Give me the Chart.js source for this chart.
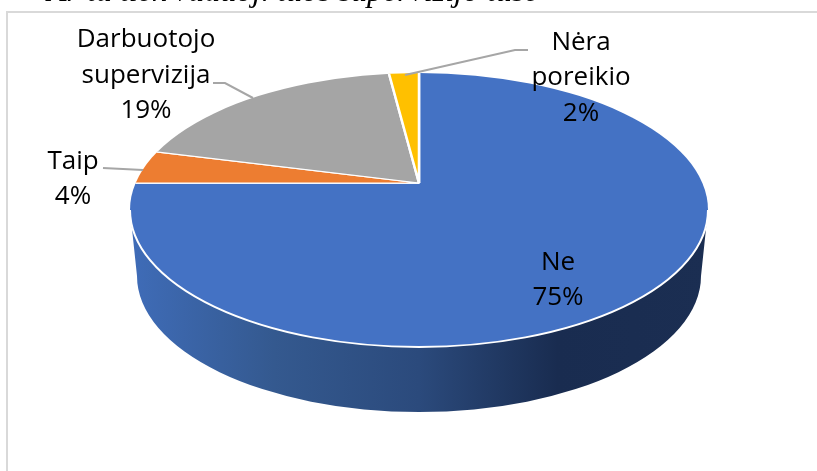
<!DOCTYPE html>
<html lang="lt">
<head>
    <meta charset="UTF-8">
    <title>Supervizija</title>
    <script src="https://cdn.jsdelivr.net/npm/chart.js"></script>
    <style>
        html, body { margin: 0; padding: 0; background: #fff; overflow: hidden; }
        canvas { display: block; }
    </style>
</head>
<body>
    <canvas id="myChart" width="817" height="471"></canvas>
    <script>
        const categories = ['Ne', 'Taip', 'Darbuotojo supervizija', 'Nėra poreikio'];
        const shares = [75, 4, 19, 2];
        const sliceColors = ['#4472C4', '#ED7D31', '#A5A5A5', '#FFC000'];
        const clippedCaption = 'Ar ta tiek vaduoj. tuos supervizijo tuse';

        // where the pie top sits on the page (the apex is above the ellipse centre, like the 3D view)
        const top3d = { cx: 419, cy: 210, rx: 289, ry: 137, apexX: 419, apexY: 183 };
        const base3d = { cy: 276, rx: 282, ry: 136 };
        const sliceScale = { x: 330, up: 152, down: 188 };

        const labelSpots = [[558, 262.5], [73, 161.5], [146, 40], [581, 42.5]];
        const lineGap = 35.5;
        const leaders = [
            [[103, 168], [143, 170]],
            [[213, 83], [225, 83], [253, 98]],
            [[528, 50], [515, 50], [405, 75]]
        ];

        function drawSide(ctx) {
            const t = top3d, b = base3d;
            const side = ctx.createLinearGradient(t.cx - t.rx, 0, t.cx + t.rx, 0);
            side.addColorStop(0, '#3F6CB8');
            side.addColorStop(0.25, '#34598F');
            side.addColorStop(0.5, '#2B4A7C');
            side.addColorStop(0.74, '#192C50');
            side.addColorStop(1, '#1B2E52');
            ctx.save();
            ctx.beginPath();
            ctx.moveTo(t.cx - t.rx, t.cy);
            ctx.lineTo(t.cx - b.rx, b.cy);
            ctx.ellipse(t.cx, b.cy, b.rx, b.ry, 0, Math.PI, 0, true);
            ctx.lineTo(t.cx + t.rx, t.cy);
            ctx.closePath();
            ctx.fillStyle = side;
            ctx.fill();
            ctx.restore();
        }

        function drawSlicesPart(chart, meta, clipTop, clipBottom, scaleY) {
            const ctx = chart.ctx, t = top3d;
            const arc = meta.data[0];
            const k = arc.outerRadius;
            ctx.save();
            ctx.beginPath();
            ctx.rect(0, clipTop, chart.width, clipBottom - clipTop);
            ctx.clip();
            ctx.beginPath();
            ctx.ellipse(t.cx, t.cy, t.rx, t.ry, 0, 0, Math.PI * 2);
            ctx.clip();
            ctx.translate(t.apexX, t.apexY);
            ctx.scale(sliceScale.x / k, scaleY / k);
            ctx.translate(-arc.x, -arc.y);
            meta.controller.draw();
            ctx.restore();
        }

        const pie3d = {
            id: 'pie3d',
            beforeDatasetDraw(chart, args) {
                const ctx = chart.ctx, t = top3d;
                drawSide(ctx);
                drawSlicesPart(chart, args.meta, 0, t.apexY, sliceScale.up);
                drawSlicesPart(chart, args.meta, t.apexY, chart.height, sliceScale.down);
                ctx.beginPath();
                ctx.ellipse(t.cx, t.cy, t.rx, t.ry, 0, 0, Math.PI);
                ctx.strokeStyle = '#fff';
                ctx.lineWidth = 2;
                ctx.stroke();
                return false;
            },
            afterDraw(chart) {
                const ctx = chart.ctx;
                ctx.save();
                ctx.strokeStyle = '#A6A6A6';
                ctx.lineWidth = 2;
                leaders.forEach(pts => {
                    ctx.beginPath();
                    pts.forEach((p, i) => i ? ctx.lineTo(p[0], p[1]) : ctx.moveTo(p[0], p[1]));
                    ctx.stroke();
                });
                ctx.fillStyle = '#000';
                ctx.font = '26px "Open Sans"';
                ctx.textAlign = 'center';
                ctx.textBaseline = 'middle';
                categories.forEach((name, i) => {
                    const lines = name.split(' ').concat(shares[i] + '%');
                    lines.forEach((line, j) => {
                        ctx.fillText(line, labelSpots[i][0], labelSpots[i][1] + j * lineGap);
                    });
                });
                // chart frame and the caption line cut off above it
                ctx.strokeStyle = '#D9D9D9';
                ctx.lineWidth = 2;
                ctx.beginPath();
                ctx.moveTo(7, chart.height);
                ctx.lineTo(7, 12);
                ctx.lineTo(chart.width, 12);
                ctx.stroke();
                ctx.font = 'italic 32px "Liberation Serif"';
                ctx.textAlign = 'left';
                ctx.textBaseline = 'alphabetic';
                ctx.fillText(clippedCaption, 47, 1);
                ctx.restore();
            }
        };

        new Chart(document.getElementById('myChart'), {
            type: 'pie',
            data: {
                labels: categories,
                datasets: [{
                    data: shares,
                    backgroundColor: sliceColors,
                    borderColor: '#fff',
                    borderWidth: 1.8
                }]
            },
            options: {
                responsive: false,
                animation: false,
                plugins: {
                    legend: { display: false },
                    tooltip: { enabled: false }
                }
            },
            plugins: [pie3d]
        });
    </script>
</body>
</html>
